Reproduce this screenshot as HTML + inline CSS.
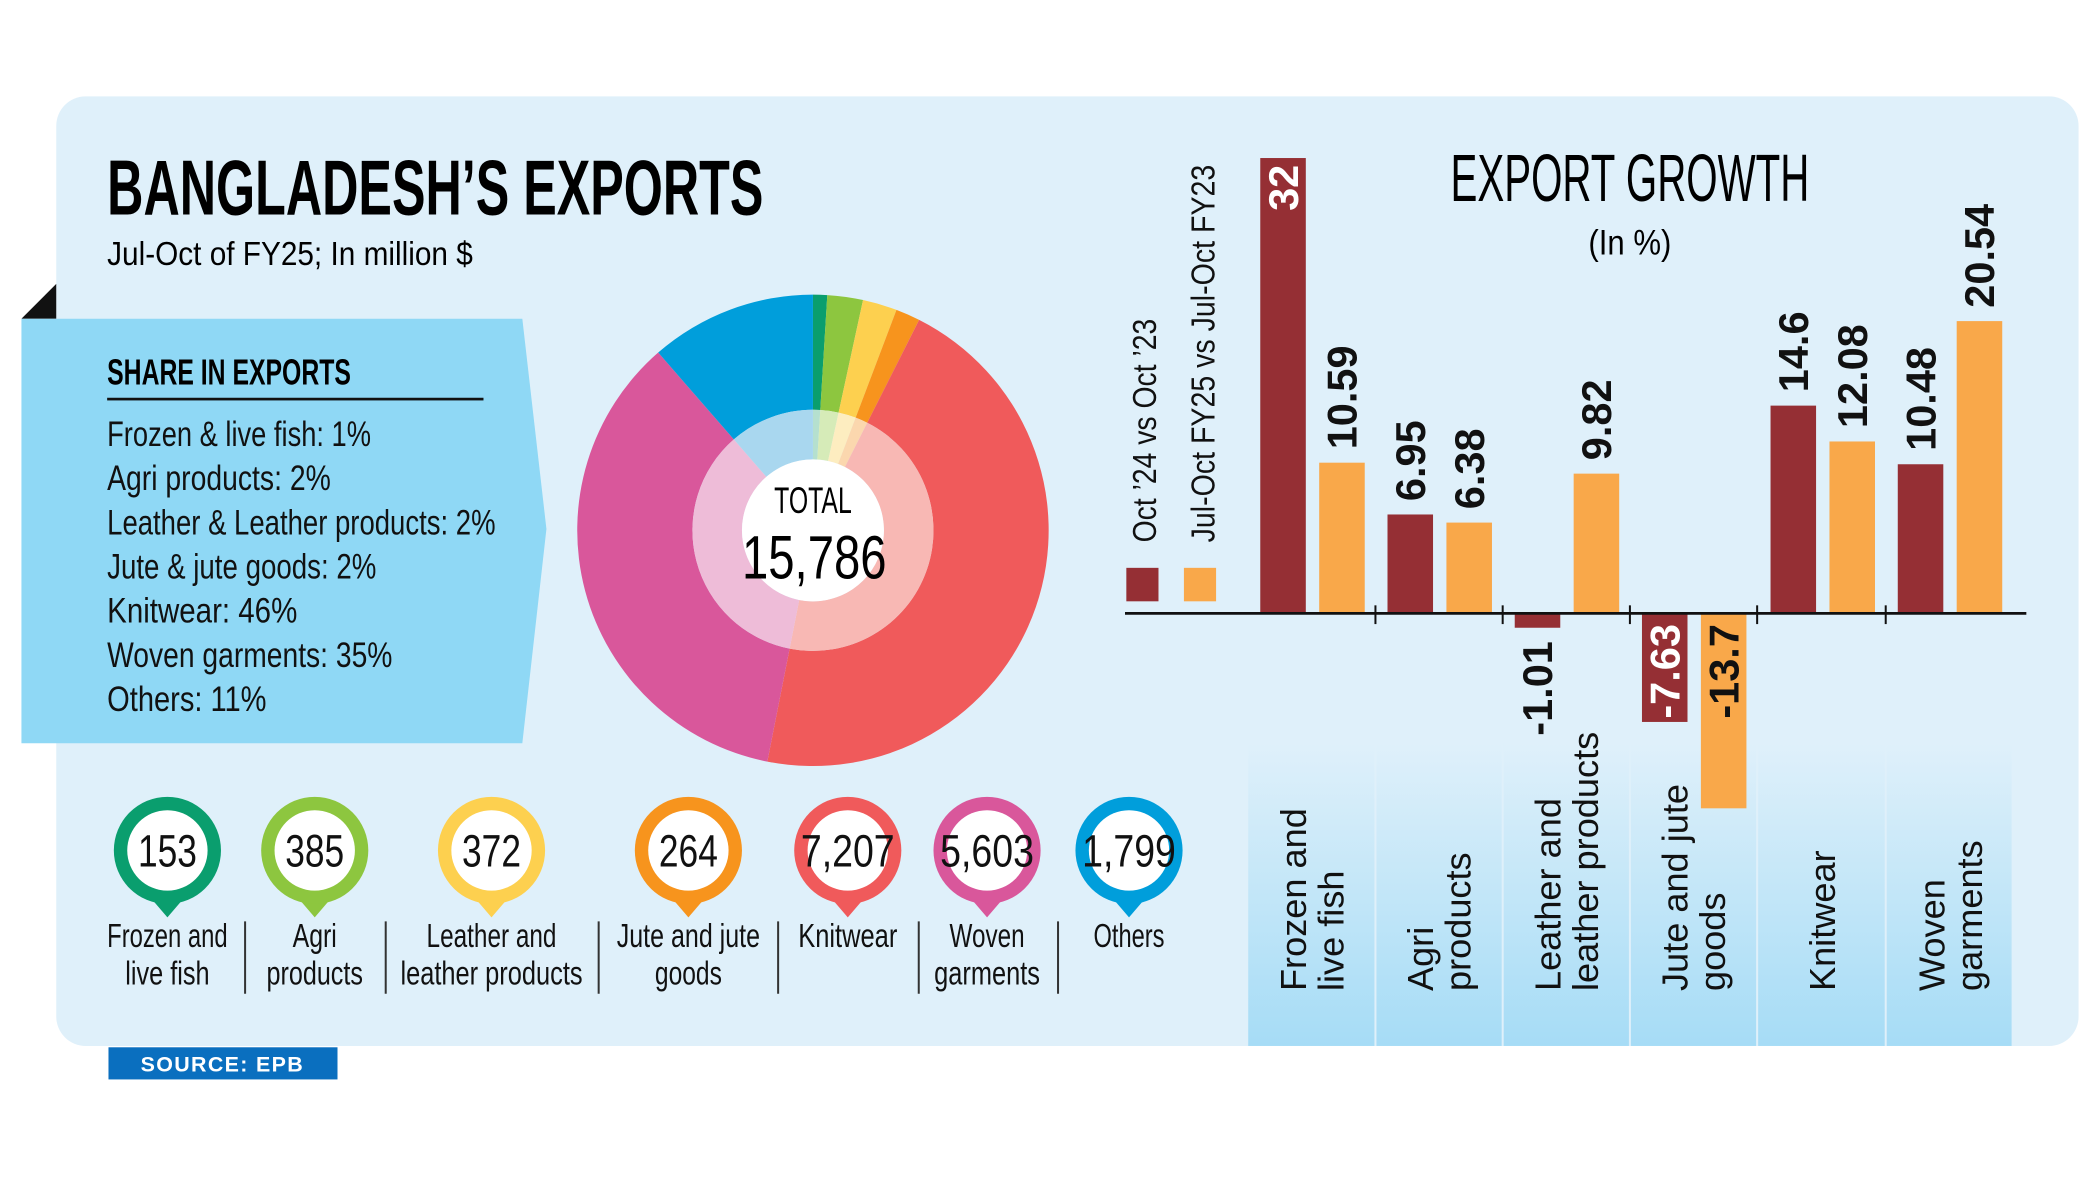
<!DOCTYPE html>
<html><head><meta charset="utf-8"><style>
html,body{margin:0;padding:0;background:#fff;}
svg{display:block;}
text{font-family:"Liberation Sans",sans-serif;}
.c{font-family:"Liberation Sans Narrow","Liberation Sans",sans-serif;}
</style></head><body>
<svg id="s" width="2100" height="1178" viewBox="0 0 1568 879.6" preserveAspectRatio="none" xmlns="http://www.w3.org/2000/svg">
<defs>
<linearGradient id="band" x1="0" y1="0" x2="0" y2="1">
<stop offset="0" stop-color="#dff0fa"/><stop offset="1" stop-color="#a6dcf6"/>
</linearGradient>
</defs>
<rect x="0" y="0" width="1568" height="880" fill="#fff"/>
<rect x="42" y="72" width="1510" height="709" rx="22" fill="#dff0fa"/>
<polygon points="16,238 42,212 42,238" fill="#111"/>
<polygon points="16,238 390,238 408,395 390,555 16,555" fill="#8fd8f5"/>
<text x="80" y="160" font-size="58" font-weight="bold" class="c" textLength="490" lengthAdjust="spacingAndGlyphs">BANGLADESH’S EXPORTS</text>
<text x="80" y="198" font-size="25" class="c" textLength="273" lengthAdjust="spacingAndGlyphs">Jul-Oct of FY25; In million $</text>
<text x="80" y="287" font-size="27" font-weight="bold" class="c" textLength="182" lengthAdjust="spacingAndGlyphs">SHARE IN EXPORTS</text>
<rect x="80" y="297" width="281" height="2" fill="#111"/>
<g font-size="26" class="c" fill="#111">
<text x="80" y="333" textLength="197" lengthAdjust="spacingAndGlyphs">Frozen &amp; live fish: 1%</text>
<text x="80" y="366" textLength="167" lengthAdjust="spacingAndGlyphs">Agri products: 2%</text>
<text x="80" y="399" textLength="290" lengthAdjust="spacingAndGlyphs">Leather &amp; Leather products: 2%</text>
<text x="80" y="432" textLength="201" lengthAdjust="spacingAndGlyphs">Jute &amp; jute goods: 2%</text>
<text x="80" y="465" textLength="142" lengthAdjust="spacingAndGlyphs">Knitwear: 46%</text>
<text x="80" y="498" textLength="213" lengthAdjust="spacingAndGlyphs">Woven garments: 35%</text>
<text x="80" y="531" textLength="119" lengthAdjust="spacingAndGlyphs">Others: 11%</text>
</g>
<g id="donut"></g>
<circle cx="607" cy="396" r="53" fill="#fff"/>
<text x="607" y="383" font-size="28" class="c" text-anchor="middle" textLength="58" lengthAdjust="spacingAndGlyphs">TOTAL</text>
<text x="608" y="432" font-size="46" class="c" text-anchor="middle" textLength="108" lengthAdjust="spacingAndGlyphs">15,786</text>
<g id="pins"></g>
<g stroke="#333" stroke-width="1.5">
<line x1="183" y1="688" x2="183" y2="742"/><line x1="288" y1="688" x2="288" y2="742"/>
<line x1="447" y1="688" x2="447" y2="742"/><line x1="581" y1="688" x2="581" y2="742"/>
<line x1="686" y1="688" x2="686" y2="742"/><line x1="790" y1="688" x2="790" y2="742"/>
</g>
<g font-size="25" class="c" text-anchor="middle" fill="#111">
<text x="125" y="707" textLength="90" lengthAdjust="spacingAndGlyphs">Frozen and</text><text x="125" y="735" textLength="63" lengthAdjust="spacingAndGlyphs">live fish</text>
<text x="235" y="707" textLength="33" lengthAdjust="spacingAndGlyphs">Agri</text><text x="235" y="735" textLength="72" lengthAdjust="spacingAndGlyphs">products</text>
<text x="367" y="707" textLength="97" lengthAdjust="spacingAndGlyphs">Leather and</text><text x="367" y="735" textLength="136" lengthAdjust="spacingAndGlyphs">leather products</text>
<text x="514" y="707" textLength="107" lengthAdjust="spacingAndGlyphs">Jute and jute</text><text x="514" y="735" textLength="50" lengthAdjust="spacingAndGlyphs">goods</text>
<text x="633" y="707" textLength="74" lengthAdjust="spacingAndGlyphs">Knitwear</text>
<text x="737" y="707" textLength="56" lengthAdjust="spacingAndGlyphs">Woven</text><text x="737" y="735" textLength="79" lengthAdjust="spacingAndGlyphs">garments</text>
<text x="843" y="707" textLength="53" lengthAdjust="spacingAndGlyphs">Others</text>
</g>
<rect x="81" y="782" width="171" height="24" fill="#0a6fbf"/>
<text x="166" y="800" font-size="16" font-weight="bold" fill="#fff" text-anchor="middle" letter-spacing="1">SOURCE: EPB</text>

<rect x="932" y="555" width="570" height="226" fill="url(#band)"/>
<g stroke="#dff0fa" stroke-width="1.5">
<line x1="1027" y1="555" x2="1027" y2="781"/><line x1="1122" y1="555" x2="1122" y2="781"/>
<line x1="1217" y1="555" x2="1217" y2="781"/><line x1="1312" y1="555" x2="1312" y2="781"/>
<line x1="1408" y1="555" x2="1408" y2="781"/>
</g>
<text x="1217" y="150" font-size="50" class="c" text-anchor="middle" textLength="268" lengthAdjust="spacingAndGlyphs">EXPORT GROWTH</text>
<text x="1217" y="190" font-size="26" class="c" text-anchor="middle" textLength="62" lengthAdjust="spacingAndGlyphs">(In %)</text>
<rect x="841" y="424" width="24" height="25" fill="#952f34"/>
<rect x="884" y="424" width="24" height="25" fill="#f9a84a"/>
<text transform="translate(863,405) rotate(-90)" font-size="25" fill="#111" textLength="167" lengthAdjust="spacingAndGlyphs">Oct ’24 vs Oct ’23</text>
<text transform="translate(907,405) rotate(-90)" font-size="25" fill="#111" textLength="282" lengthAdjust="spacingAndGlyphs">Jul-Oct FY25 vs Jul-Oct FY23</text>
<g id="bars"></g>
<line x1="840" y1="458" x2="1513" y2="458" stroke="#111" stroke-width="2"/>
<g stroke="#111" stroke-width="1.5">
<line x1="1027" y1="452" x2="1027" y2="466"/><line x1="1122" y1="452" x2="1122" y2="466"/>
<line x1="1217" y1="452" x2="1217" y2="466"/><line x1="1312" y1="452" x2="1312" y2="466"/>
<line x1="1408" y1="452" x2="1408" y2="466"/>
</g>
<g font-size="27" fill="#111">
<text transform="translate(975,740) rotate(-90)">Frozen and</text><text transform="translate(1003,740) rotate(-90)">live fish</text>
<text transform="translate(1070,740) rotate(-90)">Agri</text><text transform="translate(1098,740) rotate(-90)">products</text>
<text transform="translate(1165,740) rotate(-90)">Leather and</text><text transform="translate(1193,740) rotate(-90)">leather products</text>
<text transform="translate(1260,740) rotate(-90)">Jute and jute</text><text transform="translate(1288,740) rotate(-90)">goods</text>
<text transform="translate(1370,740) rotate(-90)">Knitwear</text>
<text transform="translate(1452,740) rotate(-90)">Woven</text><text transform="translate(1480,740) rotate(-90)">garments</text>
</g>
</svg>
<script>
var NS="http://www.w3.org/2000/svg";
function el(p,t,a,txt){var e=document.createElementNS(NS,t);for(var k in a)e.setAttribute(k,a[k]);if(txt!==undefined)e.textContent=txt;p.appendChild(e);return e;}
var cx=607,cy=396;
var vals=[153,385,372,264,7207,5603,1799];
var cols=["#0a9e6e","#8dc63f","#fdd04f","#f7941d","#f05a5b","#d9579b","#009edb"];
var pale=["#b5e0cf","#d6ebb8","#fdedc0","#fbd7ae","#f8b8b4","#eebcd8","#a9d7ef"];
var tot=vals.reduce(function(a,b){return a+b},0);
function pt(r,a){return [cx+r*Math.sin(a),cy-r*Math.cos(a)];}
function arc(r0,r1,a0,a1){var l=(a1-a0)>Math.PI?1:0;var p0=pt(r1,a0),p1=pt(r1,a1),p2=pt(r0,a1),p3=pt(r0,a0);
return "M"+p0+"A"+r1+","+r1+" 0 "+l+" 1 "+p1+"L"+p2+"A"+r0+","+r0+" 0 "+l+" 0 "+p3+"Z";}
var d=document.getElementById("donut"),acc=0;
for(var i=0;i<7;i++){var a0=acc/tot*2*Math.PI;acc+=vals[i];var a1=acc/tot*2*Math.PI;
el(d,"path",{d:arc(90,176,a0,a1),fill:cols[i]});el(d,"path",{d:arc(53,90,a0,a1),fill:pale[i]});}
var pins=document.getElementById("pins");
var px=[125,235,367,514,633,737,843],labs=["153","385","372","264","7,207","5,603","1,799"];
for(var i=0;i<7;i++){var x=px[i],y=635;
el(pins,"path",{d:"M"+(x-12)+","+(y+36)+"L"+x+","+(y+50)+"L"+(x+12)+","+(y+36)+"Z",fill:cols[i]});
el(pins,"circle",{cx:x,cy:y,r:40,fill:cols[i]});
el(pins,"circle",{cx:x,cy:y,r:30,fill:"#fff"});
var t=el(pins,"text",{x:x,y:y+12,"font-size":34,"text-anchor":"middle","class":"c",fill:"#111"},labs[i]);
t.setAttribute("textLength",labs[i].length>3?70:44);t.setAttribute("lengthAdjust","spacingAndGlyphs");}
var b=document.getElementById("bars"),s=10.625,base=458;
var data=[[941,32,"#952f34"],[985,10.59,"#f9a84a"],[1036,6.95,"#952f34"],[1080,6.38,"#f9a84a"],[1131,-1.01,"#952f34"],[1175,9.82,"#f9a84a"],[1226,-7.63,"#952f34"],[1270,-13.7,"#f9a84a"],[1322,14.6,"#952f34"],[1366,12.08,"#f9a84a"],[1417,10.48,"#952f34"],[1461,20.54,"#f9a84a"]];
data.forEach(function(q){var x=q[0],v=q[1],h=Math.abs(v)*s;
el(b,"rect",{x:x,y:v>0?base-h:base,width:34,height:h,fill:q[2]});
var bx=x+17+11,lab=String(v),tr,anc,fill="#111";
if(v===32){tr="translate("+bx+","+(base-h+5)+") rotate(-90)";anc="end";fill="#fff";}
else if(v>0){tr="translate("+bx+","+(base-h-10)+") rotate(-90)";anc="start";}
else if(v===-1.01){tr="translate("+bx+","+(base+h+10)+") rotate(-90)";anc="end";}
else{tr="translate("+bx+","+(base+8)+") rotate(-90)";anc="end";fill=v===-7.63?"#fff":"#111";}
el(b,"text",{transform:tr,"text-anchor":anc,"font-size":31,"font-weight":"bold",fill:fill},lab);});
</script>
</body></html>
